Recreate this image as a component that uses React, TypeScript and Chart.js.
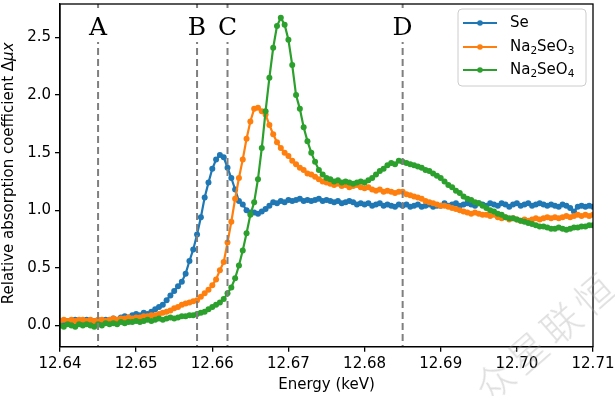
import React, { useEffect, useRef } from 'react';
import { Chart, registerables } from 'chart.js';

Chart.register(...registerables);

// Energy grid (keV)
const energies = [
  12.6400, 12.6405, 12.6410, 12.6415, 12.6420, 12.6425, 12.6430, 12.6435, 12.6440, 12.6445,
  12.6450, 12.6455, 12.6460, 12.6465, 12.6470, 12.6475, 12.6480, 12.6485, 12.6490, 12.6495,
  12.6500, 12.6505, 12.6510, 12.6515, 12.6520, 12.6525, 12.6530, 12.6535, 12.6540, 12.6545,
  12.6550, 12.6555, 12.6560, 12.6565, 12.6570, 12.6575, 12.6580, 12.6585, 12.6590, 12.6595,
  12.6600, 12.6605, 12.6610, 12.6615, 12.6620, 12.6625, 12.6630, 12.6635, 12.6640, 12.6645,
  12.6650, 12.6655, 12.6660, 12.6665, 12.6670, 12.6675, 12.6680, 12.6685, 12.6690, 12.6695,
  12.6700, 12.6705, 12.6710, 12.6715, 12.6720, 12.6725, 12.6730, 12.6735, 12.6740, 12.6745,
  12.6750, 12.6755, 12.6760, 12.6765, 12.6770, 12.6775, 12.6780, 12.6785, 12.6790, 12.6795,
  12.6800, 12.6805, 12.6810, 12.6815, 12.6820, 12.6825, 12.6830, 12.6835, 12.6840, 12.6845,
  12.6850, 12.6855, 12.6860, 12.6865, 12.6870, 12.6875, 12.6880, 12.6885, 12.6890, 12.6895,
  12.6900, 12.6905, 12.6910, 12.6915, 12.6920, 12.6925, 12.6930, 12.6935, 12.6940, 12.6945,
  12.6950, 12.6955, 12.6960, 12.6965, 12.6970, 12.6975, 12.6980, 12.6985, 12.6990, 12.6995,
  12.7000, 12.7005, 12.7010, 12.7015, 12.7020, 12.7025, 12.7030, 12.7035, 12.7040, 12.7045,
  12.7050, 12.7055, 12.7060, 12.7065, 12.7070, 12.7075, 12.7080, 12.7085, 12.7090, 12.7095,
  12.7100,
];

const seValues = [
  0.03, 0.02, 0.04, 0.03, 0.05, 0.03, 0.04, 0.05, 0.03, 0.04,
  0.04, 0.03, 0.05, 0.04, 0.06, 0.05, 0.07, 0.08, 0.07, 0.09,
  0.10, 0.09, 0.11, 0.10, 0.12, 0.14, 0.16, 0.18, 0.22, 0.26,
  0.30, 0.34, 0.38, 0.45, 0.56, 0.66, 0.79, 0.94, 1.11, 1.24,
  1.36, 1.44, 1.48, 1.46, 1.37, 1.28, 1.18, 1.08, 1.05, 1.00,
  0.98, 0.98, 0.97, 0.99, 1.01, 1.04, 1.07, 1.06, 1.08, 1.07,
  1.09, 1.08, 1.09, 1.10, 1.08, 1.09, 1.08, 1.09, 1.10, 1.08,
  1.09, 1.08, 1.07, 1.08, 1.06, 1.07, 1.08, 1.07, 1.05, 1.06,
  1.05, 1.06, 1.04, 1.05, 1.06, 1.04, 1.05, 1.04, 1.03, 1.05,
  1.04, 1.05, 1.03, 1.04, 1.05, 1.03, 1.04, 1.05, 1.03, 1.04,
  1.04, 1.06, 1.04, 1.05, 1.06, 1.04, 1.05, 1.06, 1.05, 1.04,
  1.06, 1.05, 1.04, 1.06, 1.05, 1.04, 1.06, 1.05, 1.03, 1.05,
  1.06, 1.04, 1.05, 1.06, 1.04, 1.05, 1.06, 1.05, 1.04, 1.05,
  1.04, 1.03, 1.05, 1.04, 1.02, 0.99, 1.03, 1.04, 1.03, 1.04,
  1.03,
];

const na2seo3Values = [
  0.04, 0.05, 0.04, 0.05, 0.04, 0.05, 0.05, 0.04, 0.05, 0.04,
  0.05, 0.05, 0.04, 0.05, 0.06, 0.05, 0.06, 0.06, 0.07, 0.06,
  0.07, 0.07, 0.08, 0.08, 0.09, 0.09, 0.10, 0.11, 0.12, 0.13,
  0.15, 0.16, 0.18, 0.19, 0.20, 0.21, 0.22, 0.25, 0.28, 0.31,
  0.35, 0.40, 0.48, 0.55, 0.72, 0.90, 1.10, 1.28, 1.44, 1.62,
  1.77, 1.88, 1.89, 1.86, 1.83, 1.74, 1.66, 1.59, 1.54, 1.50,
  1.47, 1.43, 1.40, 1.37, 1.35, 1.32, 1.31, 1.29, 1.27, 1.25,
  1.24, 1.23, 1.22, 1.23, 1.21, 1.22, 1.20, 1.21, 1.22, 1.20,
  1.19, 1.20, 1.18, 1.17, 1.18, 1.16, 1.17, 1.16, 1.15, 1.16,
  1.16, 1.14, 1.13, 1.12, 1.11, 1.10, 1.08, 1.07, 1.06, 1.05,
  1.04, 1.04, 1.03, 1.02, 1.01, 1.00, 0.99, 0.98, 0.97, 0.98,
  0.97, 0.96, 0.96, 0.95, 0.96, 0.94, 0.93, 0.94, 0.92, 0.93,
  0.92, 0.91, 0.92, 0.91, 0.92, 0.93, 0.92, 0.93, 0.94, 0.93,
  0.94, 0.93, 0.94, 0.95, 0.94, 0.95, 0.96, 0.95, 0.96, 0.95,
  0.96,
];

const na2seo4Values = [
  0.00, -0.01, 0.01, 0.00, -0.01, 0.01, 0.00, 0.01, 0.00, -0.01,
  0.01, 0.00, 0.02, 0.01, 0.02, 0.01, 0.03, 0.02, 0.03, 0.03,
  0.04, 0.03, 0.04, 0.05, 0.04, 0.05, 0.06, 0.05, 0.06, 0.07,
  0.06, 0.07, 0.08, 0.08, 0.09, 0.09, 0.10, 0.11, 0.12, 0.14,
  0.16, 0.18, 0.20, 0.23, 0.28, 0.33, 0.41, 0.52, 0.65, 0.80,
  0.96, 1.07, 1.27, 1.54, 1.86, 2.15, 2.41, 2.60, 2.67, 2.61,
  2.48, 2.26, 2.00, 1.88, 1.72, 1.60, 1.50, 1.42, 1.35, 1.31,
  1.28, 1.27, 1.25, 1.26, 1.24, 1.25, 1.24, 1.23, 1.24, 1.25,
  1.24, 1.26, 1.28, 1.31, 1.34, 1.36, 1.39, 1.41, 1.40, 1.43,
  1.42, 1.41, 1.40, 1.39, 1.38, 1.37, 1.35, 1.34, 1.32, 1.30,
  1.28, 1.25, 1.22, 1.20, 1.17, 1.15, 1.12, 1.10, 1.09, 1.07,
  1.06, 1.04, 1.02, 1.00, 0.99, 0.97, 0.96, 0.94, 0.93, 0.93,
  0.92, 0.91, 0.90, 0.89, 0.88, 0.87, 0.86, 0.86, 0.85, 0.84,
  0.84, 0.85, 0.84, 0.83, 0.84, 0.85, 0.85, 0.86, 0.86, 0.87,
  0.87,
];

const seriesNames = ['Se', 'Na₂SeO₃', 'Na₂SeO₄'];
const seriesColors = ['#1f77b4', '#ff7f0e', '#2ca02c'];
const xTicks = [12.64, 12.65, 12.66, 12.67, 12.68, 12.69, 12.70, 12.71];
const yTicks = [0.0, 0.5, 1.0, 1.5, 2.0, 2.5];
const edgeEnergies = [12.645, 12.658, 12.662, 12.685];
const edgeLabels = ['A', 'B', 'C', 'D'];
const xTitle = 'Energy (keV)';
const yTitleMain = 'Relative absorption coefficient Δ';
const yTitleItalic = 'μx';

const SANS = '"DejaVu Sans", sans-serif';
const SUBS: Record<string, string> = { '₀': '0', '₁': '1', '₂': '2', '₃': '3', '₄': '4', '₅': '5', '₆': '6', '₇': '7', '₈': '8', '₉': '9' };

function drawRich(ctx: CanvasRenderingContext2D, text: string, x: number, y: number) {
  let cx = x;
  for (const ch of text) {
    if (SUBS[ch]) {
      ctx.font = `10.5px ${SANS}`;
      ctx.fillText(SUBS[ch], cx, y + 4);
      cx += ctx.measureText(SUBS[ch]).width;
    } else {
      ctx.font = `15px ${SANS}`;
      ctx.fillText(ch, cx, y);
      cx += ctx.measureText(ch).width;
    }
  }
}

const decorPlugin = {
  id: 'decor',
  afterDatasetsDraw(chart: any) {
    const { ctx, chartArea: a, scales } = chart;
    const x = scales.x;
    ctx.save();
    ctx.strokeStyle = '#7f7f7f';
    ctx.lineWidth = 2;
    ctx.setLineDash([7, 4]);
    edgeEnergies.forEach((e) => {
      const px = x.getPixelForValue(e);
      ctx.beginPath();
      ctx.moveTo(px, a.top);
      ctx.lineTo(px, a.bottom);
      ctx.stroke();
    });
    ctx.setLineDash([]);
    ctx.font = '25px "DejaVu Serif", serif';
    ctx.textAlign = 'center';
    ctx.textBaseline = 'alphabetic';
    edgeEnergies.forEach((e, i) => {
      const px = x.getPixelForValue(e);
      const w = ctx.measureText(edgeLabels[i]).width;
      ctx.fillStyle = '#ffffff';
      ctx.fillRect(px - w / 2 - 3, a.top + 4, w + 6, 34);
      ctx.fillStyle = '#000000';
      ctx.fillText(edgeLabels[i], px, a.top + 31);
    });
    ctx.strokeStyle = '#000';
    ctx.lineWidth = 1.3;
    ctx.strokeRect(a.left, a.top, a.right - a.left, a.bottom - a.top);

    const lx = 458, ly = 9, lw = 128, lh = 77;
    ctx.beginPath();
    ctx.roundRect(lx, ly, lw, lh, 4);
    ctx.fillStyle = 'rgba(255,255,255,0.85)';
    ctx.fill();
    ctx.strokeStyle = '#cccccc';
    ctx.lineWidth = 1;
    ctx.stroke();
    const rows = [23, 47, 70];
    seriesNames.forEach((name, i) => {
      const yy = rows[i];
      ctx.strokeStyle = seriesColors[i];
      ctx.lineWidth = 2.2;
      ctx.beginPath();
      ctx.moveTo(463, yy);
      ctx.lineTo(497, yy);
      ctx.stroke();
      ctx.fillStyle = seriesColors[i];
      ctx.beginPath();
      ctx.arc(480, yy, 2.8, 0, Math.PI * 2);
      ctx.fill();
      ctx.fillStyle = '#000';
      ctx.textAlign = 'left';
      ctx.textBaseline = 'middle';
      drawRich(ctx, name, 510, yy);
    });
    ctx.restore();
  },
  afterDraw(chart: any) {
    const { ctx, chartArea: a } = chart;
    ctx.save();
    ctx.fillStyle = '#000';
    ctx.font = `15px ${SANS}`;
    ctx.textAlign = 'center';
    ctx.textBaseline = 'middle';
    ctx.fillText(xTitle, (a.left + a.right) / 2, 385);
    ctx.translate(9, (a.top + a.bottom) / 2 - 2);
    ctx.rotate(-Math.PI / 2);
    ctx.font = `15px ${SANS}`;
    const w1 = ctx.measureText(yTitleMain).width;
    ctx.font = `italic 15px ${SANS}`;
    const w2 = ctx.measureText(yTitleItalic).width;
    const start = -(w1 + w2) / 2;
    ctx.textAlign = 'left';
    ctx.font = `15px ${SANS}`;
    ctx.fillText(yTitleMain, start, 0);
    ctx.font = `italic 15px ${SANS}`;
    ctx.fillText(yTitleItalic, start + w1, 0);
    ctx.restore();
  },
};

function makeSeries(values: number[]) {
  return energies.map((e, i) => ({ x: e, y: values[i] }));
}

export default function App() {
  const canvasRef = useRef<HTMLCanvasElement | null>(null);

  useEffect(() => {
    document.body.style.margin = '0';
    const canvas = canvasRef.current;
    if (!canvas) return;
    const allValues = [seValues, na2seo3Values, na2seo4Values];
    const chart = new Chart(canvas, {
      type: 'line',
      data: {
        datasets: allValues.map((vals, i) => ({
          label: seriesNames[i],
          data: makeSeries(vals),
          borderColor: seriesColors[i],
          backgroundColor: seriesColors[i],
          pointBackgroundColor: seriesColors[i],
          pointBorderColor: seriesColors[i],
          borderWidth: 2.2,
          pointRadius: 3,
          pointBorderWidth: 0,
          tension: 0,
          fill: false,
          order: 3 - i,
        })),
      },
      options: {
        animation: false,
        responsive: false,
        devicePixelRatio: 1,
        events: [],
        layout: { padding: { top: 4, right: 22, left: 0, bottom: 0 } },
        plugins: { legend: { display: false }, tooltip: { enabled: false } },
        scales: {
          x: {
            type: 'linear',
            min: 12.64,
            max: 12.71,
            afterBuildTicks: (s: any) => {
              s.ticks = xTicks.map((v) => ({ value: v }));
            },
            afterFit: (s: any) => {
              s.height = 49.3;
              s.paddingLeft = 0;
              s.paddingRight = 0;
            },
            ticks: {
              callback: (v: any) => Number(v).toFixed(2),
              font: { family: 'DejaVu Sans', size: 15 },
              color: '#000',
              padding: 3,
              maxRotation: 0,
              autoSkip: false,
            },
            grid: { drawOnChartArea: false, drawTicks: true, tickLength: 5, color: '#000', lineWidth: 1.3 },
            border: { display: true, color: '#000', width: 1.3 },
          },
          y: {
            type: 'linear',
            min: -0.184,
            max: 2.79,
            afterBuildTicks: (s: any) => {
              s.ticks = yTicks.map((v) => ({ value: v }));
            },
            afterFit: (s: any) => {
              s.width = 60;
              s.paddingTop = 0;
              s.paddingBottom = 0;
            },
            ticks: {
              callback: (v: any) => Number(v).toFixed(1),
              font: { family: 'DejaVu Sans', size: 15 },
              color: '#000',
              padding: 4,
              autoSkip: false,
            },
            grid: { drawOnChartArea: false, drawTicks: true, tickLength: 5, color: '#000', lineWidth: 1.3 },
            border: { display: true, color: '#000', width: 1.3 },
          },
        },
      },
      plugins: [decorPlugin],
    } as any);
    return () => chart.destroy();
  }, []);

  return (
    <div style={{ position: 'relative', width: 615, height: 396, background: '#fff', overflow: 'hidden' }}>
      <canvas ref={canvasRef} width={615} height={396} style={{ display: 'block' }} />
      <div
        style={{
          position: 'absolute',
          left: 0,
          top: 0,
          transform: 'translate(545px, 334px) translate(-50%, -50%) rotate(-41deg)',
          whiteSpace: 'nowrap',
          fontFamily: '"Noto Sans CJK SC", sans-serif',
          fontWeight: 300,
          fontSize: 38,
          letterSpacing: 6,
          color: 'rgba(160,160,160,0.35)',
          pointerEvents: 'none',
        }}
      >
        众星联恒
      </div>
    </div>
  );
}
